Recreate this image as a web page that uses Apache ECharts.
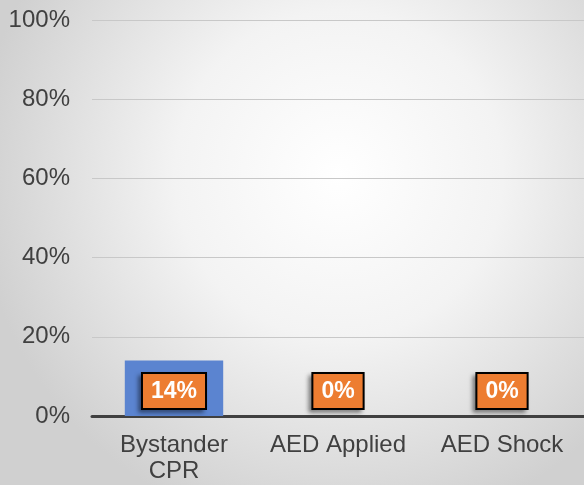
<!DOCTYPE html>
<html><head><meta charset="utf-8">
<script src="https://cdn.jsdelivr.net/npm/echarts@6/dist/echarts.min.js"></script>
<style>html,body{margin:0;padding:0;}#c{width:584px;height:485px;}</style>
</head><body><div id="c"></div>
<script>
const categories = ['Bystander\nCPR', 'AED Applied', 'AED Shock'];
const values = [14, 0, 0];
const yTicks = [0, 20, 40, 60, 80, 100];

const chart = echarts.init(document.getElementById('c'), null, {renderer: 'canvas'});
chart.setOption({
  backgroundColor: {
    type: 'radial', x: 0.58, y: 0.36, r: 0.75,
    colorStops: [{offset: 0, color: '#ffffff'}, {offset: 0.45, color: '#f3f3f3'}, {offset: 1, color: '#d0d0d0'}]
  },
  animation: false,
  grid: {left: 92, right: 0, top: 20, bottom: 69},
  xAxis: {
    type: 'category', data: categories,
    axisLine: {lineStyle: {color: '#404040', width: 3}},
    axisTick: {show: false},
    axisLabel: {interval: 0, hideOverlap: false, color: '#404040', fontFamily: 'Liberation Sans', fontSize: 24, lineHeight: 26, margin: 16}
  },
  yAxis: {
    type: 'value', min: yTicks[0], max: yTicks[yTicks.length - 1], interval: 20,
    axisLine: {show: false}, axisTick: {show: false},
    splitLine: {lineStyle: {color: '#c8c8c8', width: 1}},
    axisLabel: {color: '#404040', fontFamily: 'Liberation Sans', fontSize: 24, margin: 22, formatter: v => v + '%'}
  },
  series: [{
    type: 'bar', data: values, barWidth: '60%',
    itemStyle: {color: '#5B84D0'},
    label: {
      show: true, position: 'insideBottom', distance: 8,
      formatter: p => p.value + '%',
      color: '#ffffff', fontFamily: 'Liberation Sans', fontWeight: 'bold', fontSize: 23,
      backgroundColor: '#ED7D31', borderColor: '#000000', borderWidth: 2,
      padding: [6, 8, 5, 8],
      shadowColor: 'rgba(0,0,0,0.35)', shadowBlur: 4, shadowOffsetX: -3, shadowOffsetY: 3
    }
  }]
});
</script></body></html>
